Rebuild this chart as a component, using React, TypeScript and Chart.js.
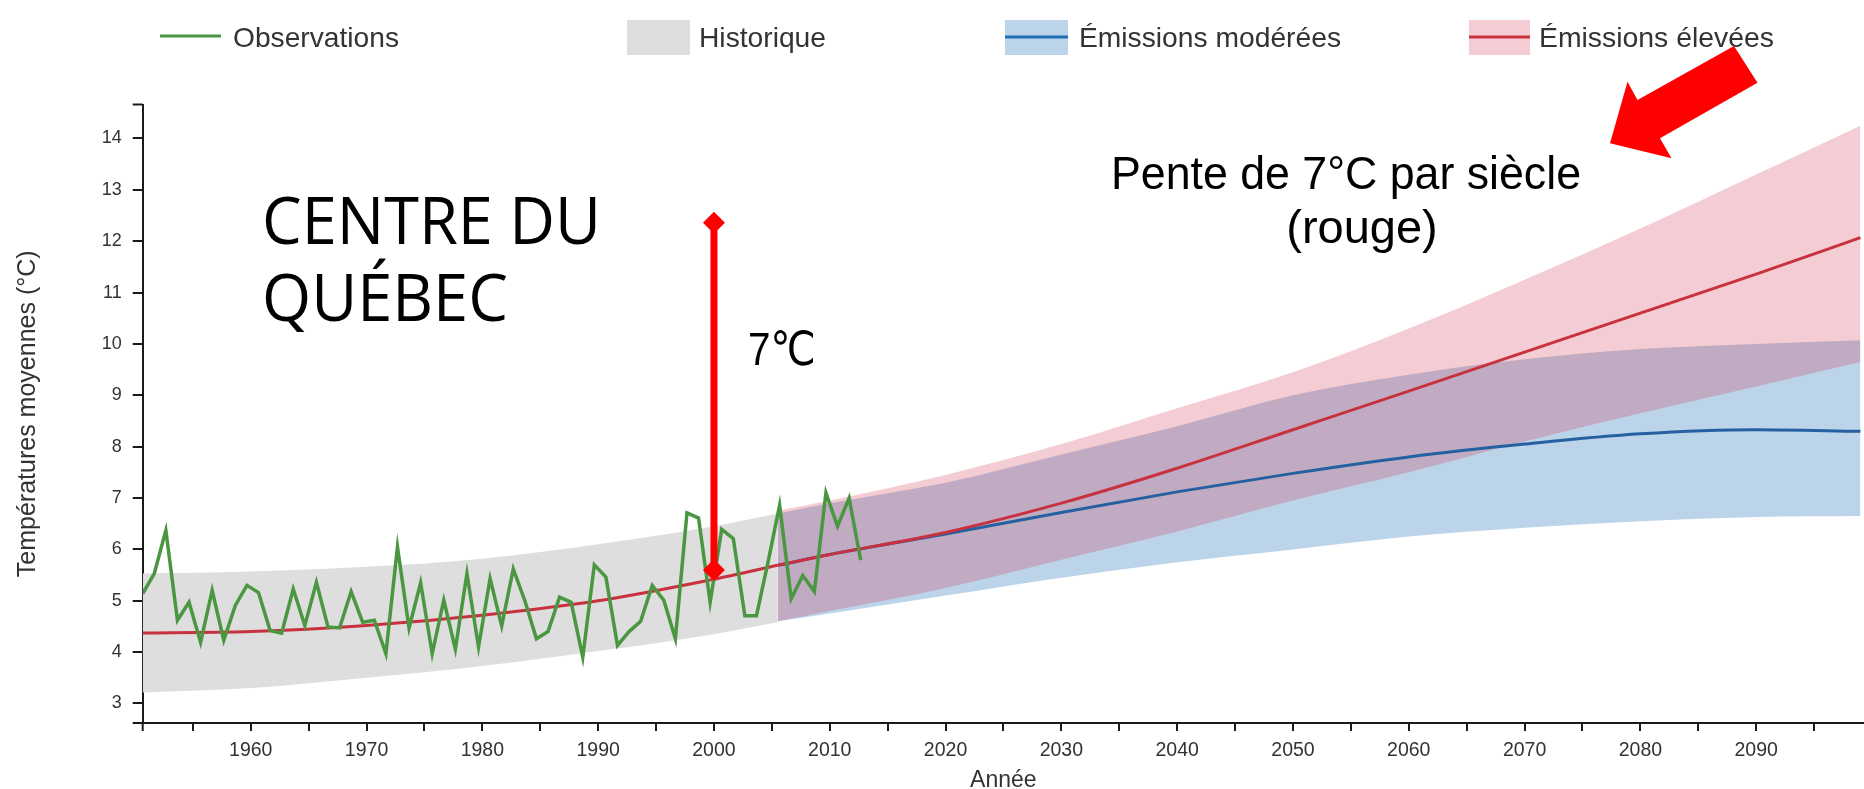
import { useEffect, useRef } from "react";
import { Chart, registerables } from "chart.js";

Chart.register(...registerables);
Chart.defaults.font.family = "'Liberation Sans', Arial, sans-serif";

const W = 1864;
const H = 789;

// ---------- data ----------
// Annual observed mean temperature (°C), years 1950–2012 (plotted mid-year)
const obsFirstYear = 1950;
const obsMidYearOffset = 0.67;
const obsValues = [
  5.14, 5.53, 6.37, 4.62, 4.97, 4.19, 5.2, 4.23, 4.91, 5.3,
  5.16, 4.42, 4.37, 5.23, 4.52, 5.36, 4.49, 4.47, 5.18, 4.58,
  4.62, 3.97, 6.05, 4.47, 5.35, 3.97, 5.01, 4.06, 5.53, 4.1,
  5.43, 4.51, 5.62, 5.0, 4.26, 4.4, 5.07, 4.97, 3.9, 5.7,
  5.46, 4.13, 4.4, 4.6, 5.3, 5.01, 4.26, 6.71, 6.61, 4.97,
  6.39, 6.21, 4.71, 4.71, 5.75, 6.86, 5.04, 5.49, 5.18, 7.1,
  6.45, 7.0, 5.79,
];

// Historical simulation band
const histYears = [1950, 1960, 1970, 1980, 1990, 2000, 2005.5];
const histLow = [3.21, 3.3, 3.5, 3.73, 4.02, 4.35, 4.58];
const histHigh = [5.53, 5.57, 5.66, 5.82, 6.1, 6.45, 6.7];
const histMedian = [4.37, 4.4, 4.52, 4.72, 5.0, 5.42, 5.69];

// Projections
const projYears = [2005.5, 2010, 2020, 2030, 2040, 2050, 2060, 2070, 2080, 2090, 2099];
const modLow = [4.6, 4.75, 5.1, 5.45, 5.75, 6.0, 6.25, 6.42, 6.55, 6.63, 6.65];
const modHigh = [6.7, 6.9, 7.3, 7.85, 8.4, 9.0, 9.4, 9.7, 9.9, 10.0, 10.07];
const modMedian = [5.69, 5.9, 6.3, 6.72, 7.12, 7.48, 7.8, 8.05, 8.25, 8.33, 8.3];
const highLow = [4.6, 4.8, 5.25, 5.8, 6.35, 6.95, 7.5, 8.1, 8.65, 9.17, 9.65];
const highHigh = [6.75, 6.95, 7.45, 8.05, 8.75, 9.45, 10.3, 11.25, 12.25, 13.3, 14.25];
const highMedian = [5.69, 5.9, 6.33, 6.9, 7.58, 8.33, 9.08, 9.84, 10.6, 11.36, 12.07];

// Axes
const X_MIN = 1950.67;
const X_MAX = 2099.31;
const Y_MIN = 2.62;
const Y_MAX = 14.66;
const xTickYears = [1955, 1960, 1965, 1970, 1975, 1980, 1985, 1990, 1995, 2000, 2005, 2010, 2015, 2020, 2025, 2030, 2035, 2040, 2045, 2050, 2055, 2060, 2065, 2070, 2075, 2080, 2085, 2090, 2095];
const yTicks = [3, 4, 5, 6, 7, 8, 9, 10, 11, 12, 13, 14];

// Annotation: 7 °C span at year 2000
const annotYear = 2000;
const annotLow = 5.6;
const annotHigh = 12.36;

// ---------- styles ----------
const GREEN = "#4a9641";
const RED = "#c8323f";
const BLUE = "#2560a0";
const GRAY_FILL = "#dedede";
const BLUE_FILL = "rgba(33,113,181,0.3)";
const PINK_FILL = "rgba(210,40,70,0.24)";
const AXIS = "#1a1a1a";
const TEXT = "#333333";

const pts = (xs: number[], ys: number[]) => xs.map((x, i) => ({ x, y: ys[i] }));

const bandLow = (data: any, order: number) => ({
  data,
  borderWidth: 0,
  pointRadius: 0,
  fill: false,
  order,
  cubicInterpolationMode: "monotone" as const,
});
const bandHigh = (data: any, color: string, order: number) => ({
  data,
  borderWidth: 0,
  pointRadius: 0,
  fill: "-1",
  backgroundColor: color,
  order,
  cubicInterpolationMode: "monotone" as const,
});
const curve = (data: any, color: string, order: number) => ({
  data,
  borderColor: color,
  borderWidth: 3,
  pointRadius: 0,
  fill: false,
  order,
  cubicInterpolationMode: "monotone" as const,
});

const overlayPlugin = {
  id: "overlay",
  afterDraw(chart: any) {
    const { ctx, chartArea: ca, scales } = chart;
    const xs = scales.x;
    const ys = scales.y;
    ctx.save();

    // d3-style outer ticks
    ctx.strokeStyle = AXIS;
    ctx.lineWidth = 2;
    ctx.beginPath();
    ctx.moveTo(ca.left - 10, ca.top);
    ctx.lineTo(ca.left, ca.top);
    ctx.moveTo(ca.left - 10, ca.bottom);
    ctx.lineTo(ca.left, ca.bottom);
    ctx.moveTo(ca.left, ca.bottom);
    ctx.lineTo(ca.left, ca.bottom + 8);
    ctx.stroke();

    // ---- legend ----
    ctx.textBaseline = "alphabetic";
    ctx.textAlign = "left";
    ctx.font = "28.5px 'Liberation Sans', Arial, sans-serif";
    ctx.fillStyle = TEXT;
    // Observations
    ctx.strokeStyle = GREEN;
    ctx.lineWidth = 3;
    ctx.beginPath();
    ctx.moveTo(160, 36);
    ctx.lineTo(221, 36);
    ctx.stroke();
    ctx.fillText("Observations", 233, 47, 166);
    // Historique
    ctx.fillStyle = GRAY_FILL;
    ctx.fillRect(627, 20, 63, 35);
    ctx.fillStyle = TEXT;
    ctx.fillText("Historique", 699, 47, 127);
    // Émissions modérées
    ctx.fillStyle = BLUE_FILL;
    ctx.fillRect(1005, 20, 63, 35);
    ctx.strokeStyle = "#1f6fb2";
    ctx.beginPath();
    ctx.moveTo(1005, 37);
    ctx.lineTo(1068, 37);
    ctx.stroke();
    ctx.fillStyle = TEXT;
    ctx.fillText("Émissions modérées", 1079, 47, 262);
    // Émissions élevées
    ctx.fillStyle = PINK_FILL;
    ctx.fillRect(1469, 20, 61, 35);
    ctx.strokeStyle = RED;
    ctx.beginPath();
    ctx.moveTo(1469, 37);
    ctx.lineTo(1530, 37);
    ctx.stroke();
    ctx.fillStyle = TEXT;
    ctx.fillText("Émissions élevées", 1539, 47, 235);

    // ---- annotations ----
    // 7 °C span
    const xa = xs.getPixelForValue(annotYear);
    const yLo = ys.getPixelForValue(annotLow);
    const yHi = ys.getPixelForValue(annotHigh);
    ctx.strokeStyle = "#ff0000";
    ctx.fillStyle = "#ff0000";
    ctx.lineWidth = 7;
    ctx.beginPath();
    ctx.moveTo(xa, yLo);
    ctx.lineTo(xa, yHi);
    ctx.stroke();
    const diamond = (cx: number, cy: number) => {
      ctx.beginPath();
      ctx.moveTo(cx, cy - 11);
      ctx.lineTo(cx + 11, cy);
      ctx.lineTo(cx, cy + 11);
      ctx.lineTo(cx - 11, cy);
      ctx.closePath();
      ctx.fill();
    };
    diamond(xa, yLo);
    diamond(xa, yHi);

    ctx.fillStyle = "#000";
    ctx.font = "47px 'Liberation Sans', 'DejaVu Sans', Arial, sans-serif";
    ctx.fillText("7℃", 748, 365, 68);

    // Region title
    ctx.font = "66px 'Open Sans', 'Noto Sans', sans-serif";
    ctx.fillText("CENTRE DU", 262, 244, 339);
    ctx.fillText("QUÉBEC", 262, 321, 246);

    // Slope note
    ctx.font = "47px 'Liberation Sans', Arial, sans-serif";
    ctx.textAlign = "center";
    ctx.fillText("Pente de 7°C par siècle", 1346, 189, 470);
    ctx.fillText("(rouge)", 1362, 243, 154);

    // Red block arrow
    ctx.fillStyle = "#ff0000";
    ctx.beginPath();
    ctx.moveTo(1734, 46);
    ctx.lineTo(1757.5, 82.7);
    ctx.lineTo(1660, 138.3);
    ctx.lineTo(1671.5, 158.3);
    ctx.lineTo(1610, 143.3);
    ctx.lineTo(1627.5, 81.7);
    ctx.lineTo(1637.5, 100);
    ctx.closePath();
    ctx.fill();

    ctx.restore();
  },
};

export default function App() {
  const ref = useRef<HTMLCanvasElement | null>(null);

  useEffect(() => {
    if (!ref.current) return;
    const obsPts = obsValues.map((v, i) => ({ x: obsFirstYear + i + obsMidYearOffset, y: v }));

    const chart = new Chart(ref.current, {
      type: "line",
      data: {
        datasets: [
          bandLow(pts(histYears, histLow), 10) as any,
          bandHigh(pts(histYears, histHigh), GRAY_FILL, 10) as any,
          bandLow(pts(projYears, modLow), 9) as any,
          bandHigh(pts(projYears, modHigh), BLUE_FILL, 9) as any,
          bandLow(pts(projYears, highLow), 8) as any,
          bandHigh(pts(projYears, highHigh), PINK_FILL, 8) as any,
          curve(pts(histYears, histMedian), RED, 5) as any,
          curve(pts(projYears, modMedian), BLUE, 4) as any,
          curve(pts(projYears, highMedian), RED, 3) as any,
          {
            data: obsPts,
            borderColor: GREEN,
            borderWidth: 3.5,
            pointRadius: 0,
            fill: false,
            tension: 0,
            order: 1,
          } as any,
        ],
      },
      options: {
        animation: false,
        responsive: false,
        events: [],
        layout: { padding: { top: 104.6, left: 0, right: 0, bottom: 0 } },
        plugins: {
          legend: { display: false },
          tooltip: { enabled: false },
        },
        scales: {
          x: {
            type: "linear",
            min: X_MIN,
            max: X_MAX,
            afterFit: (s: any) => {
              s.height = 66;
            },
            afterBuildTicks: (s: any) => {
              s.ticks = xTickYears.map((v) => ({ value: v }));
            },
            ticks: {
              callback: (v: any) => (Number(v) % 10 === 0 ? String(v) : ""),
              font: { size: 19.5 },
              color: TEXT,
              padding: 8,
              maxRotation: 0,
              autoSkip: false,
            },
            grid: { drawOnChartArea: false, drawTicks: true, tickLength: 8, color: AXIS, lineWidth: 2 },
            border: { display: true, color: AXIS, width: 2 },
            title: {
              display: true,
              text: "Année",
              font: { size: 23 },
              color: TEXT,
              padding: { top: 0, bottom: -5 },
            },
          },
          y: {
            type: "linear",
            min: Y_MIN,
            max: Y_MAX,
            afterFit: (s: any) => {
              s.width = 142.7;
            },
            afterBuildTicks: (s: any) => {
              s.ticks = yTicks.map((v) => ({ value: v }));
            },
            ticks: {
              font: { size: 18 },
              color: TEXT,
              padding: 11,
            },
            grid: { drawOnChartArea: false, drawTicks: true, tickLength: 10, color: AXIS, lineWidth: 2 },
            border: { display: true, color: AXIS, width: 2 },
            title: {
              display: true,
              text: "Températures moyennes (°C)",
              font: { size: 25 },
              color: TEXT,
              padding: { top: 13, bottom: 0 },
            },
          },
        },
      },
      plugins: [overlayPlugin],
    });
    return () => chart.destroy();
  }, []);

  return (
    <div style={{ position: "absolute", left: 0, top: 0, width: W, height: H, background: "#fff" }}>
      <canvas ref={ref} width={W} height={H} />
    </div>
  );
}
